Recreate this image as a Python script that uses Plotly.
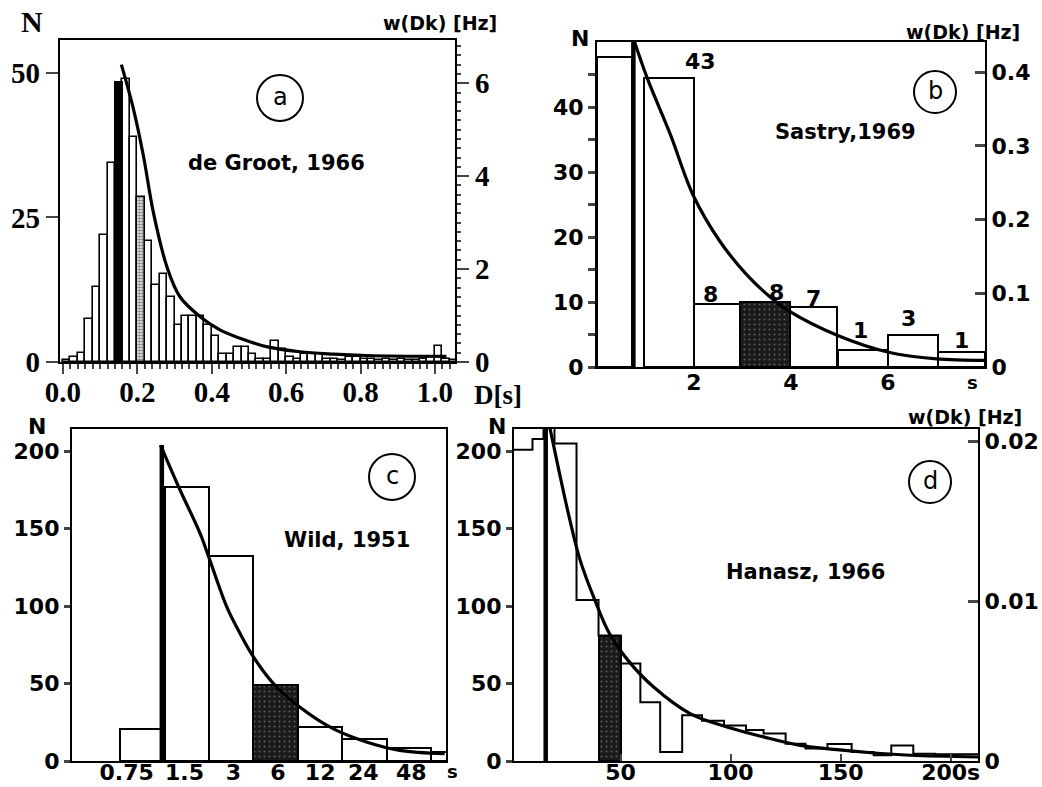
import plotly.graph_objects as go

W, H = 1042, 787
SERIF = "Liberation Serif"
SANS = "DejaVu Sans"

# ---------------- data ----------------
# (a) de Groot, 1966 : histogram with 0.02 s bins starting at 0
a_bin_start = 0.0
a_bin_width = 0.02
a_counts = [0.3, 0.8, 1.5, 7.5, 13, 22, 34.5, 48.5, 49, 39, 28.5, 21, 13.3, 15.3,
            11.3, 6.4, 8, 8, 8, 6.4, 4.5, 1.4, 1.4, 2.6, 2.6, 1.4, 0.6, 0.6, 3.6,
            2.3, 0.9, 0.6, 1.4, 1.4, 1.4, 0.6, 0.6, 0.4, 0.9, 0.9, 0.6, 0.6, 0.4,
            0.6, 0.4, 0.6, 0.4, 0.3, 0.6, 0.9, 2.7, 0.6, 0.3]
a_black_bin = 7
a_dotted_bin = 10
a_curve_D = [0.157, 0.189, 0.216, 0.243, 0.279, 0.314, 0.368, 0.422, 0.476,
             0.547, 0.637, 0.727, 0.816, 1.031]
a_curve_w = [6.40, 5.46, 4.45, 3.22, 2.06, 1.41, 0.98, 0.69, 0.51, 0.33, 0.22,
             0.17, 0.14, 0.12]
a_xticks = [0.0, 0.2, 0.4, 0.6, 0.8, 1.0]
a_xticktext = ["0.0", "0.2", "0.4", "0.6", "0.8", "1.0"]

# (b) Sastry, 1969
b_left = [0, 0.96, 2.0, 2.95, 3.97, 4.97, 6.0, 7.03]
b_right = [0.72, 2.0, 2.95, 3.97, 4.95, 6.0, 7.03, 8.0]
b_counts = [47.7, 44.5, 9.7, 10, 9.2, 2.6, 4.9, 2.3]
b_labels = ["", "43", "8", "8", "7", "1", "3", "1"]
b_dark_bin = 3
b_peak_x = 0.75
b_curve_x = [0.72, 1.03, 1.51, 1.99, 2.54, 3.09, 3.57, 3.98, 4.95, 6.01, 7.0, 8.0]
b_curve_w = [0.452, 0.393, 0.316, 0.232, 0.170, 0.125, 0.095, 0.075, 0.043,
             0.020, 0.011, 0.009]

# (c) Wild, 1951 : logarithmic bins (index axis)
c_tick_labels = ["0.75", "1.5", "3", "6", "12", "24", "48"]
c_tick_pos = [0.15, 1.45, 2.55, 3.55, 4.5, 5.47, 6.55]
c_counts = [20.9, 176.7, 132.3, 49.4, 22, 14.4, 8.6, 5.8]
c_dark_bin = 3
c_peak_u = 0.94
c_curve_u = [0.91, 1.35, 1.80, 2.02, 2.40, 2.70, 3.0, 3.45, 4.04, 4.79, 5.54, 6.29, 7.30]
c_curve_N = [204, 175, 147, 129.7, 99.6, 82.3, 67.2, 50, 34.9, 20.9, 12.3, 6.9, 4.7]

# (d) Hanasz, 1966
d_edges = [0, 10, 15, 20, 30, 40, 50, 59, 68, 78, 87, 97, 107, 115, 125, 134,
           144, 155, 165, 173, 183, 193, 203, 213]
d_counts = [201, 208, 216, 205, 104, 81, 63, 38, 5.8, 29.5, 26, 23, 20, 17.7,
            11.2, 8, 11, 5.8, 3.7, 10, 4.7, 4.3, 4.3]
d_dark_bin = 5
d_peak_s = 16
d_curve_s = [17.4, 21.6, 26.6, 31.6, 38.3, 44.9, 53.3, 64.9, 81.6, 98.3, 115,
             131.6, 148.3, 165, 181.7, 212.4]
d_curve_w = [0.0212, 0.01846, 0.01532, 0.0126, 0.01009, 0.0080, 0.00632, 0.00465,
             0.00297, 0.00213, 0.00151, 0.00098, 0.00071, 0.0005, 0.00036, 0.00025]

# ---------------- helpers ----------------
def px(x):
    return x / W

def py(y):
    return 1 - y / H

dark_marker = dict(color="#1a1a1a",
                   pattern=dict(shape=".", fgcolor="#a0a0a0", bgcolor="#1a1a1a",
                                size=5, solidity=0.12),
                   line=dict(color="black", width=2))

fig = go.Figure()

# ---------------- panel a ----------------
a_centers = [a_bin_start + a_bin_width * (i + 0.5) for i in range(len(a_counts))]
plain = [i for i in range(len(a_counts)) if i not in (a_black_bin, a_dotted_bin)]
fig.add_trace(go.Bar(x=[a_centers[i] for i in plain], y=[a_counts[i] for i in plain],
                     width=a_bin_width, xaxis="x", yaxis="y",
                     marker=dict(color="white", line=dict(color="black", width=1.6))))
fig.add_trace(go.Bar(x=[a_centers[a_black_bin]], y=[a_counts[a_black_bin]],
                     width=a_bin_width, xaxis="x", yaxis="y",
                     marker=dict(color="black", line=dict(color="black", width=2))))
fig.add_trace(go.Bar(x=[a_centers[a_dotted_bin]], y=[a_counts[a_dotted_bin]],
                     width=a_bin_width, xaxis="x", yaxis="y",
                     marker=dict(color="white",
                                 pattern=dict(shape=".", fgcolor="black", bgcolor="white",
                                              size=3, solidity=0.6),
                                 line=dict(color="black", width=1.6))))
fig.add_trace(go.Scatter(x=a_curve_D, y=a_curve_w, xaxis="x", yaxis="y5", mode="lines",
                         line=dict(color="black", width=3.2, shape="spline")))

# ---------------- panel b ----------------
b_centers = [(l + r) / 2 for l, r in zip(b_left, b_right)]
b_widths = [r - l for l, r in zip(b_left, b_right)]
b_plain = [i for i in range(len(b_counts)) if i != b_dark_bin]
fig.add_trace(go.Bar(x=[b_centers[i] for i in b_plain], y=[b_counts[i] for i in b_plain],
                     width=[b_widths[i] for i in b_plain], xaxis="x2", yaxis="y2",
                     marker=dict(color="white", line=dict(color="black", width=2))))
fig.add_trace(go.Bar(x=[b_centers[b_dark_bin]], y=[b_counts[b_dark_bin]],
                     width=[b_widths[b_dark_bin]], xaxis="x2", yaxis="y2",
                     marker=dark_marker))
fig.add_trace(go.Scatter(x=[b_peak_x, b_peak_x], y=[0, 50], xaxis="x2", yaxis="y2",
                         mode="lines", line=dict(color="black", width=4.5)))
fig.add_trace(go.Scatter(x=b_curve_x, y=b_curve_w, xaxis="x2", yaxis="y6", mode="lines",
                         line=dict(color="black", width=3.2, shape="spline")))

# ---------------- panel c ----------------
c_centers = [i + 0.5 for i in range(len(c_counts))]
c_plain = [i for i in range(len(c_counts)) if i != c_dark_bin]
fig.add_trace(go.Bar(x=[c_centers[i] for i in c_plain], y=[c_counts[i] for i in c_plain],
                     width=1.0, xaxis="x3", yaxis="y3",
                     marker=dict(color="white", line=dict(color="black", width=2))))
fig.add_trace(go.Bar(x=[c_centers[c_dark_bin]], y=[c_counts[c_dark_bin]], width=1.0,
                     xaxis="x3", yaxis="y3", marker=dark_marker))
fig.add_trace(go.Scatter(x=[c_peak_u, c_peak_u], y=[0, c_curve_N[0]], xaxis="x3",
                         yaxis="y3", mode="lines", line=dict(color="black", width=4.5)))
fig.add_trace(go.Scatter(x=c_curve_u, y=c_curve_N, xaxis="x3", yaxis="y3", mode="lines",
                         line=dict(color="black", width=3.2, shape="spline")))

# ---------------- panel d ----------------
fig.add_trace(go.Bar(x=[(d_edges[d_dark_bin] + d_edges[d_dark_bin + 1]) / 2],
                     y=[d_counts[d_dark_bin]],
                     width=[d_edges[d_dark_bin + 1] - d_edges[d_dark_bin]],
                     xaxis="x4", yaxis="y4", marker=dark_marker))
fig.add_trace(go.Scatter(x=d_edges, y=d_counts + [d_counts[-1]], xaxis="x4", yaxis="y4",
                         mode="lines", line=dict(color="black", width=2, shape="hv")))
fig.add_trace(go.Scatter(x=[d_peak_s, d_peak_s], y=[0, 214.4], xaxis="x4", yaxis="y4",
                         mode="lines", line=dict(color="black", width=4.5)))
fig.add_trace(go.Scatter(x=d_curve_s, y=d_curve_w, xaxis="x4", yaxis="y7", mode="lines",
                         line=dict(color="black", width=3.2, shape="spline")))

# ---------------- axes ----------------
serif_font = dict(family=SERIF, size=29, color="black", weight="bold")
sans_font = dict(family=SANS, size=22, color="black", weight="bold")
base = dict(showgrid=False, zeroline=False, showline=True, linecolor="black",
            linewidth=2.2, fixedrange=True, automargin=False)

layout = dict(
    width=W, height=H, margin=dict(l=0, r=0, t=0, b=0, autoexpand=False),
    paper_bgcolor="white", plot_bgcolor="white", showlegend=False,
    barmode="overlay", bargap=0,
    xaxis=dict(base, domain=[px(60), px(455)], range=[-0.008, 1.054], anchor="y",
               tickmode="array", tickvals=a_xticks, ticktext=a_xticktext,
               ticks="outside", ticklen=10, tickwidth=2, mirror=True,
               ticklabelstandoff=-7,
               minor=dict(dtick=0.02, tick0=0, ticks="outside", ticklen=5, tickwidth=1.5),
               tickfont=serif_font),
    yaxis=dict(base, domain=[py(362), py(40)], range=[0, 55.7], anchor="x",
               tickvals=[0, 25, 50], ticks="outside", ticklen=12, tickwidth=2,
               mirror=True, tickfont=serif_font),
    yaxis5=dict(base, overlaying="y", side="right", anchor="x", range=[0, 6.93],
                tickvals=[0, 2, 4, 6], ticks="outside", ticklen=12, tickwidth=2,
                minor=dict(dtick=0.2, tick0=0, ticks="outside", ticklen=4, tickwidth=1.5),
                tickfont=serif_font),

    xaxis2=dict(base, domain=[px(597), px(985)], range=[0, 8], anchor="y2",
                tickvals=[2, 4, 6], ticktext=["2", "4", "6"], ticks="", mirror=True,
                ticklabelstandoff=-6, tickfont=sans_font),
    yaxis2=dict(base, domain=[py(367), py(42)], range=[0, 50], anchor="x2",
                tickvals=[0, 5, 10, 15, 20, 25, 30, 35, 40, 45],
                ticktext=["0", "", "10", "", "20", "", "30", "", "40", ""],
                ticks="outside", ticklen=7, tickwidth=2.5, mirror=True, tickfont=sans_font),
    yaxis6=dict(base, overlaying="y2", side="right", anchor="x2", range=[0, 0.441],
                tickvals=[0, 0.1, 0.2, 0.3, 0.4], ticktext=["0", "0.1", "0.2", "0.3", "0.4"],
                ticks="inside", ticklen=10, tickwidth=2.5, tickfont=sans_font),

    xaxis3=dict(base, domain=[px(72), px(446)], range=[-1.08, 7.33], anchor="y3",
                tickvals=c_tick_pos, ticktext=c_tick_labels, ticks="", mirror=True,
                ticklabelstandoff=-10, tickfont=sans_font),
    yaxis3=dict(base, domain=[py(761), py(429)], range=[0, 214.4], anchor="x3",
                tickvals=[0, 50, 100, 150, 200], ticks="outside", ticklen=6, tickwidth=2.5,
                mirror=True, tickfont=sans_font),

    xaxis4=dict(base, domain=[px(514), px(978)], range=[1.6, 212.4], anchor="y4",
                tickvals=[50, 100, 150, 200], ticktext=["50", "100", "150", "200s"],
                ticks="inside", ticklen=7, tickwidth=1.5, mirror=True,
                ticklabelstandoff=-10, tickfont=sans_font),
    yaxis4=dict(base, domain=[py(761), py(429)], range=[0, 214.4], anchor="x4",
                tickvals=[0, 50, 100, 150, 200], ticks="outside", ticklen=6, tickwidth=2.5,
                mirror=True, tickfont=sans_font),
    yaxis7=dict(base, overlaying="y4", side="right", anchor="x4", range=[0, 0.0208],
                tickvals=[0, 0.01, 0.02], ticktext=["0", "0.01", "0.02"],
                ticks="inside", ticklen=10, tickwidth=2.5, tickfont=sans_font),
)
fig.update_layout(layout)

# ---------------- annotations ----------------
def note(text, x, y, font, **kw):
    fig.add_annotation(text=text, x=px(x), y=py(y), xref="paper", yref="paper",
                       showarrow=False, font=font, xanchor="center", yanchor="middle", **kw)

title_font = dict(family=SANS, size=21, color="black", weight="bold")
label_font = dict(family=SANS, size=22, color="black", weight="bold")
small_bold = dict(family=SANS, size=19, color="black", weight="bold")

note("N", 32, 22, dict(family=SERIF, size=30, color="black", weight="bold"))
note("w(Dk) [Hz]", 440, 23, small_bold)
note("D[s]", 498, 395, dict(family=SERIF, size=27, color="black", weight="bold"))
note("de Groot, 1966", 276, 163, title_font)

note("N", 580, 38, label_font)
note("w(Dk) [Hz]", 963, 32, small_bold)
note("Sastry,1969", 845, 132, title_font)
note("s", 972, 383, dict(family=SANS, size=18, color="black", weight="bold"))

note("N", 37, 427, label_font)
note("Wild, 1951", 347, 540, title_font)
note("s", 452, 771, dict(family=SANS, size=18, color="black", weight="bold"))

note("N", 497, 427, label_font)
note("w(Dk) [Hz]", 965, 417, small_bold)
note("Hanasz, 1966", 805, 572, title_font)

# bar count labels in panel b
b_label_dx = [0, 32, -7, 12, 0, -3, -4, 0]
b_label_dy = [0, 16, 9, 9, 9, 20, 17, 12]
for i, t in enumerate(b_labels):
    if t:
        fig.add_annotation(text=t, x=b_centers[i], y=b_counts[i], xref="x2", yref="y2",
                           showarrow=False, font=label_font, xshift=b_label_dx[i],
                           yshift=b_label_dy[i], yanchor="middle")

# circled panel letters
for letter, cx, cy, r in [("a", 280, 98, 23), ("b", 935, 92, 21),
                          ("c", 392, 477, 23), ("d", 930, 482, 21)]:
    fig.add_shape(type="circle", xref="paper", yref="paper",
                  x0=px(cx - r), x1=px(cx + r), y0=py(cy + r), y1=py(cy - r),
                  line=dict(color="black", width=2))
    note(letter, cx, cy - 1, dict(family=SANS, size=24, color="black"))

fig.write_html("out.html")
